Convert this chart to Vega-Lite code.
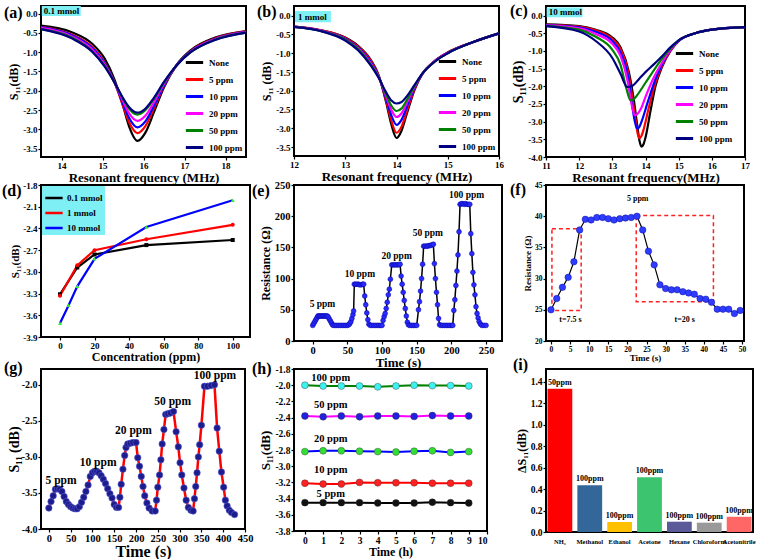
{
"$schema":"https://vega.github.io/schema/vega-lite/v6.json",
"background":"white",
"padding":{"left":1,"top":2,"right":6,"bottom":0},
"columns":3,
"bounds":"flush",
"align":"none",
"spacing":{"row":28,"column":44},
"resolve":{"scale":{"color":"independent","fill":"independent","shape":"independent"},"legend":{"color":"independent","fill":"independent","shape":"independent"}},
"config":{
 "locale":{"number":{"decimal":".","thousands":",","grouping":[3],"currency":["$",""],"minus":"-"}},
 "font":"Liberation Serif",
 "view":{"stroke":"black","strokeWidth":2},
 "axis":{"domain":false,"grid":false,"tickColor":"black","tickSize":3,"tickWidth":1.2,"tickCount":40,"labelColor":"black","labelFontWeight":"bold","labelFontSize":9,"labelPadding":1,"labelFlush":false,"labelOverlap":false,"labelSeparation":0,"titleColor":"black","titleFontWeight":"bold","titleFontSize":13,"titlePadding":2},
 "legend":{"labelColor":"black","labelFontWeight":"bold","labelFontSize":9},
 "title":{"anchor":"start","frame":"group","offset":0,"fontSize":16,"fontWeight":"bold","color":"black"},
 "text":{"fontWeight":"bold","color":"black"}
},
"datasets":{
"dd":[
{"s":"0.1 mmol","x":0,"y":-3.31},{"s":"0.1 mmol","x":10,"y":-2.94},{"s":"0.1 mmol","x":20,"y":-2.76},{"s":"0.1 mmol","x":50,"y":-2.63},{"s":"0.1 mmol","x":100,"y":-2.56},
{"s":"1 mmol","x":0,"y":-3.33},{"s":"1 mmol","x":10,"y":-2.91},{"s":"1 mmol","x":20,"y":-2.7},{"s":"1 mmol","x":50,"y":-2.55},{"s":"1 mmol","x":100,"y":-2.35},
{"s":"10 mmol","x":0,"y":-3.71},{"s":"10 mmol","x":5,"y":-3.46},{"s":"10 mmol","x":10,"y":-3.2},{"s":"10 mmol","x":20,"y":-2.82},{"s":"10 mmol","x":50,"y":-2.38},{"s":"10 mmol","x":100,"y":-2.01}
],
"ee":[
{"t":0,"R":25},{"t":1.5,"R":28},{"t":3,"R":31},{"t":4.5,"R":34},{"t":6,"R":37},{"t":7.5,"R":40},{"t":9,"R":40},{"t":10.5,"R":40},{"t":12,"R":40},{"t":13.5,"R":40},{"t":15,"R":40},{"t":16.5,"R":40},{"t":18,"R":40},{"t":19.5,"R":40},{"t":21,"R":40},{"t":22.5,"R":38},{"t":24,"R":35},{"t":25.5,"R":32},{"t":27,"R":29},{"t":28.5,"R":26},{"t":30,"R":25},{"t":32.5,"R":25},{"t":35,"R":25},{"t":37.5,"R":25},{"t":40,"R":25},{"t":42.5,"R":25},{"t":45,"R":25},{"t":47.5,"R":25},{"t":50,"R":25},
{"t":52,"R":26},{"t":53.5,"R":28},{"t":55,"R":31},{"t":56.5,"R":36},{"t":58,"R":42},{"t":59,"R":48},{"t":60,"R":91},{"t":62,"R":91},{"t":64,"R":91},{"t":66,"R":91},{"t":68,"R":90},{"t":70,"R":90},{"t":72,"R":91},{"t":73.5,"R":91},{"t":75,"R":72},{"t":76.5,"R":58},{"t":78,"R":45},{"t":79.5,"R":34},{"t":81,"R":27},{"t":83,"R":25},{"t":85.5,"R":25},{"t":88,"R":25},{"t":90.5,"R":25},{"t":93,"R":25},{"t":95.5,"R":25},{"t":98,"R":25},{"t":100,"R":25},
{"t":101.5,"R":33},{"t":103,"R":39},{"t":104.5,"R":44},{"t":106,"R":52},{"t":107.5,"R":62},{"t":109,"R":74},{"t":110.5,"R":83},{"t":112,"R":99},{"t":114,"R":122},{"t":116,"R":122},{"t":118,"R":122},{"t":120,"R":122},{"t":122,"R":122},{"t":124,"R":122},{"t":126,"R":123},{"t":127.5,"R":104},{"t":129,"R":91},{"t":130.5,"R":78},{"t":132,"R":65},{"t":133.5,"R":52},{"t":135,"R":40},{"t":136.5,"R":30},{"t":138,"R":26},{"t":140,"R":25},{"t":142.5,"R":25},{"t":145,"R":25},{"t":147.5,"R":25},{"t":150,"R":25},
{"t":152.5,"R":50},{"t":154,"R":63},{"t":155.5,"R":80},{"t":157,"R":100},{"t":158.5,"R":123},{"t":160,"R":152},{"t":162,"R":152},{"t":164,"R":152},{"t":166,"R":152},{"t":168,"R":153},{"t":170,"R":153},{"t":172,"R":154},{"t":174,"R":155},{"t":175.5,"R":124},{"t":177,"R":100},{"t":178.5,"R":78},{"t":180,"R":58},{"t":181.5,"R":36},{"t":183,"R":26},{"t":185,"R":25},{"t":187.5,"R":25},{"t":190,"R":25},{"t":192.5,"R":25},{"t":195,"R":25},{"t":197.5,"R":25},{"t":200,"R":25},{"t":202,"R":25},
{"t":203.5,"R":49},{"t":205,"R":66},{"t":206.5,"R":89},{"t":208,"R":112},{"t":209.5,"R":138},{"t":211,"R":175},{"t":212.5,"R":219},{"t":214.5,"R":220},{"t":216.5,"R":220},{"t":218.5,"R":219},{"t":220.5,"R":220},{"t":222.5,"R":219},{"t":224.5,"R":219},{"t":226.5,"R":219},{"t":228,"R":172},{"t":229.5,"R":140},{"t":231,"R":110},{"t":232.5,"R":90},{"t":234,"R":74},{"t":235.5,"R":55},{"t":237,"R":44},{"t":238.5,"R":37},{"t":240,"R":31},{"t":242,"R":27},{"t":244,"R":25},{"t":247,"R":25},{"t":250,"R":25}
],
"ff":[
{"t":0,"R":25.0},{"t":1.5,"R":26.8},{"t":3,"R":28.6},{"t":4.5,"R":30.2},{"t":6,"R":32.7},{"t":7.5,"R":37.8},{"t":9,"R":39.5},{"t":10.5,"R":39.4},{"t":12,"R":39.8},{"t":13.5,"R":39.8},{"t":15,"R":39.6},{"t":16.5,"R":39.4},{"t":18,"R":39.6},{"t":19.5,"R":39.7},{"t":21,"R":39.8},{"t":22.5,"R":40.0},{"t":24,"R":37.8},{"t":25.5,"R":34.4},{"t":27,"R":32.2},{"t":28.5,"R":29.0},{"t":30,"R":28.4},{"t":31.5,"R":28.2},{"t":33,"R":28.2},{"t":34.5,"R":27.9},{"t":36,"R":27.7},{"t":37.5,"R":27.5},{"t":39,"R":26.8},{"t":40.5,"R":26.7},{"t":42,"R":26.2},{"t":43.5,"R":25.1},{"t":45,"R":25.1},{"t":46.5,"R":25.1},{"t":48,"R":24.4},{"t":49.5,"R":24.9}
],
"gg":[
{"t":0,"s":-3.71},{"t":5,"s":-3.62},{"t":10,"s":-3.54},{"t":15,"s":-3.45},{"t":20,"s":-3.44},{"t":25,"s":-3.45},{"t":30,"s":-3.48},{"t":35,"s":-3.55},{"t":40,"s":-3.62},{"t":45,"s":-3.66},{"t":50,"s":-3.69},{"t":55,"s":-3.71},{"t":60,"s":-3.72},{"t":65,"s":-3.72},{"t":70,"s":-3.69},{"t":75,"s":-3.63},{"t":80,"s":-3.56},{"t":85,"s":-3.48},{"t":90,"s":-3.39},{"t":95,"s":-3.27},{"t":100,"s":-3.22},{"t":105,"s":-3.2},{"t":110,"s":-3.2},{"t":115,"s":-3.22},{"t":120,"s":-3.26},{"t":125,"s":-3.31},{"t":130,"s":-3.37},{"t":135,"s":-3.44},{"t":140,"s":-3.51},{"t":145,"s":-3.57},{"t":150,"s":-3.66},{"t":155,"s":-3.7},{"t":160,"s":-3.7},
{"t":163,"s":-3.56},{"t":166,"s":-3.38},{"t":170,"s":-3.17},{"t":174,"s":-2.98},{"t":177,"s":-2.87},{"t":181,"s":-2.82},{"t":187,"s":-2.81},{"t":193,"s":-2.8},{"t":200,"s":-2.8},{"t":204,"s":-3.01},{"t":208,"s":-3.13},{"t":212,"s":-3.27},{"t":216,"s":-3.41},{"t":220,"s":-3.54},{"t":225,"s":-3.64},{"t":230,"s":-3.71},{"t":237,"s":-3.75},{"t":244,"s":-3.75},
{"t":247,"s":-3.6},{"t":250,"s":-3.42},{"t":254,"s":-3.25},{"t":257,"s":-3.04},{"t":260,"s":-2.82},{"t":264,"s":-2.62},{"t":268,"s":-2.41},{"t":273,"s":-2.4},{"t":279,"s":-2.39},{"t":286,"s":-2.37},{"t":292,"s":-2.65},{"t":297,"s":-2.86},{"t":301,"s":-3.08},{"t":305,"s":-3.25},{"t":310,"s":-3.43},{"t":315,"s":-3.6},{"t":320,"s":-3.7},{"t":326,"s":-3.74},{"t":331,"s":-3.75},
{"t":334,"s":-3.58},{"t":337,"s":-3.41},{"t":340,"s":-3.22},{"t":343,"s":-3.0},{"t":346,"s":-2.83},{"t":350,"s":-2.56},{"t":357,"s":-2.02},{"t":364,"s":-2.02},{"t":372,"s":-2.01},{"t":380,"s":-2.0},{"t":386,"s":-2.6},{"t":391,"s":-2.92},{"t":396,"s":-3.21},{"t":401,"s":-3.42},{"t":405,"s":-3.6},{"t":409,"s":-3.68},{"t":414,"s":-3.74},{"t":419,"s":-3.77},{"t":426,"s":-3.8}
],
"hh":[
{"p":"100 ppm","h":0,"s":-2.0},{"p":"100 ppm","h":1,"s":-2.01},{"p":"100 ppm","h":2,"s":-2.01},{"p":"100 ppm","h":3,"s":-2.01},{"p":"100 ppm","h":4,"s":-2.02},{"p":"100 ppm","h":5,"s":-2.01},{"p":"100 ppm","h":6,"s":-2.0},{"p":"100 ppm","h":7,"s":-2.005},{"p":"100 ppm","h":8,"s":-2.005},{"p":"100 ppm","h":9,"s":-2.01},
{"p":"50 ppm","h":0,"s":-2.38},{"p":"50 ppm","h":1,"s":-2.39},{"p":"50 ppm","h":2,"s":-2.38},{"p":"50 ppm","h":3,"s":-2.39},{"p":"50 ppm","h":4,"s":-2.38},{"p":"50 ppm","h":5,"s":-2.38},{"p":"50 ppm","h":6,"s":-2.385},{"p":"50 ppm","h":7,"s":-2.375},{"p":"50 ppm","h":8,"s":-2.38},{"p":"50 ppm","h":9,"s":-2.38},
{"p":"20 ppm","h":0,"s":-2.82},{"p":"20 ppm","h":1,"s":-2.81},{"p":"20 ppm","h":2,"s":-2.81},{"p":"20 ppm","h":3,"s":-2.815},{"p":"20 ppm","h":4,"s":-2.82},{"p":"20 ppm","h":5,"s":-2.825},{"p":"20 ppm","h":6,"s":-2.815},{"p":"20 ppm","h":7,"s":-2.81},{"p":"20 ppm","h":8,"s":-2.83},{"p":"20 ppm","h":9,"s":-2.82},
{"p":"10 ppm","h":0,"s":-3.21},{"p":"10 ppm","h":1,"s":-3.22},{"p":"10 ppm","h":2,"s":-3.22},{"p":"10 ppm","h":3,"s":-3.2},{"p":"10 ppm","h":4,"s":-3.205},{"p":"10 ppm","h":5,"s":-3.205},{"p":"10 ppm","h":6,"s":-3.205},{"p":"10 ppm","h":7,"s":-3.21},{"p":"10 ppm","h":8,"s":-3.21},{"p":"10 ppm","h":9,"s":-3.21},
{"p":"5 ppm","h":0,"s":-3.45},{"p":"5 ppm","h":1,"s":-3.45},{"p":"5 ppm","h":2,"s":-3.45},{"p":"5 ppm","h":3,"s":-3.45},{"p":"5 ppm","h":4,"s":-3.455},{"p":"5 ppm","h":5,"s":-3.455},{"p":"5 ppm","h":6,"s":-3.455},{"p":"5 ppm","h":7,"s":-3.445},{"p":"5 ppm","h":8,"s":-3.45},{"p":"5 ppm","h":9,"s":-3.455}
]
},
"concat":[
{
"width":205,"height":151,
"title":{"text":"(a)","dx":-37,"dy":19},
"layer":[
{"data":{"values":[
{"c":"None","f":13.5,"s":-0.31},{"c":"None","f":14.25,"s":-0.48},{"c":"None","f":14.75,"s":-0.78},{"c":"None","f":15.05,"s":-1.16},{"c":"None","f":15.3,"s":-1.73},{"c":"None","f":15.5,"s":-2.39},{"c":"None","f":15.65,"s":-2.93},{"c":"None","f":15.85,"s":-3.3},{"c":"None","f":16.05,"s":-3.08},{"c":"None","f":16.25,"s":-2.57},{"c":"None","f":16.5,"s":-1.91},{"c":"None","f":16.8,"s":-1.34},{"c":"None","f":17.15,"s":-0.95},{"c":"None","f":17.75,"s":-0.62},{"c":"None","f":18.5,"s":-0.45},
{"c":"5 ppm","f":13.5,"s":-0.34},{"c":"5 ppm","f":14.25,"s":-0.54},{"c":"5 ppm","f":14.75,"s":-0.86},{"c":"5 ppm","f":15.05,"s":-1.26},{"c":"5 ppm","f":15.3,"s":-1.8},{"c":"5 ppm","f":15.5,"s":-2.39},{"c":"5 ppm","f":15.65,"s":-2.82},{"c":"5 ppm","f":15.85,"s":-3.1},{"c":"5 ppm","f":16.05,"s":-2.91},{"c":"5 ppm","f":16.25,"s":-2.47},{"c":"5 ppm","f":16.5,"s":-1.88},{"c":"5 ppm","f":16.8,"s":-1.35},{"c":"5 ppm","f":17.15,"s":-0.97},{"c":"5 ppm","f":17.75,"s":-0.64},{"c":"5 ppm","f":18.5,"s":-0.46},
{"c":"10 ppm","f":13.5,"s":-0.35},{"c":"10 ppm","f":14.25,"s":-0.56},{"c":"10 ppm","f":14.75,"s":-0.89},{"c":"10 ppm","f":15.05,"s":-1.28},{"c":"10 ppm","f":15.3,"s":-1.8},{"c":"10 ppm","f":15.5,"s":-2.33},{"c":"10 ppm","f":15.65,"s":-2.71},{"c":"10 ppm","f":15.85,"s":-2.95},{"c":"10 ppm","f":16.05,"s":-2.79},{"c":"10 ppm","f":16.25,"s":-2.4},{"c":"10 ppm","f":16.5,"s":-1.86},{"c":"10 ppm","f":16.8,"s":-1.35},{"c":"10 ppm","f":17.15,"s":-0.98},{"c":"10 ppm","f":17.75,"s":-0.65},{"c":"10 ppm","f":18.5,"s":-0.47},
{"c":"20 ppm","f":13.5,"s":-0.37},{"c":"20 ppm","f":14.25,"s":-0.59},{"c":"20 ppm","f":14.75,"s":-0.93},{"c":"20 ppm","f":15.05,"s":-1.31},{"c":"20 ppm","f":15.3,"s":-1.8},{"c":"20 ppm","f":15.5,"s":-2.27},{"c":"20 ppm","f":15.65,"s":-2.59},{"c":"20 ppm","f":15.85,"s":-2.78},{"c":"20 ppm","f":16.05,"s":-2.64},{"c":"20 ppm","f":16.25,"s":-2.31},{"c":"20 ppm","f":16.5,"s":-1.82},{"c":"20 ppm","f":16.8,"s":-1.35},{"c":"20 ppm","f":17.15,"s":-0.99},{"c":"20 ppm","f":17.75,"s":-0.66},{"c":"20 ppm","f":18.5,"s":-0.48},
{"c":"50 ppm","f":13.5,"s":-0.4},{"c":"50 ppm","f":14.25,"s":-0.62},{"c":"50 ppm","f":14.75,"s":-0.98},{"c":"50 ppm","f":15.05,"s":-1.35},{"c":"50 ppm","f":15.3,"s":-1.8},{"c":"50 ppm","f":15.5,"s":-2.21},{"c":"50 ppm","f":15.65,"s":-2.47},{"c":"50 ppm","f":15.85,"s":-2.62},{"c":"50 ppm","f":16.05,"s":-2.5},{"c":"50 ppm","f":16.25,"s":-2.22},{"c":"50 ppm","f":16.5,"s":-1.79},{"c":"50 ppm","f":16.8,"s":-1.35},{"c":"50 ppm","f":17.15,"s":-1.0},{"c":"50 ppm","f":17.75,"s":-0.67},{"c":"50 ppm","f":18.5,"s":-0.49},
{"c":"100 ppm","f":13.5,"s":-0.4},{"c":"100 ppm","f":14.25,"s":-0.64},{"c":"100 ppm","f":14.75,"s":-0.99},{"c":"100 ppm","f":15.05,"s":-1.37},{"c":"100 ppm","f":15.3,"s":-1.8},{"c":"100 ppm","f":15.5,"s":-2.19},{"c":"100 ppm","f":15.65,"s":-2.43},{"c":"100 ppm","f":15.85,"s":-2.57},{"c":"100 ppm","f":16.05,"s":-2.46},{"c":"100 ppm","f":16.25,"s":-2.19},{"c":"100 ppm","f":16.5,"s":-1.77},{"c":"100 ppm","f":16.8,"s":-1.35},{"c":"100 ppm","f":17.15,"s":-1.0},{"c":"100 ppm","f":17.75,"s":-0.68},{"c":"100 ppm","f":18.5,"s":-0.49}
]},
"mark":{"type":"line","interpolate":"monotone","strokeWidth":2.2},
"encoding":{
"x":{"field":"f","type":"quantitative","scale":{"domain":[13.5,18.5],"nice":false,"zero":false},"axis":{"values":[14,15,16,17,18],"tickCount":40,"format":"d","title":"Resonant frequency (MHz)","titlePadding":1}},
"y":{"field":"s","type":"quantitative","scale":{"domain":[-3.72,0.2],"nice":false,"zero":false},"axis":{"values":[-3.5,-3,-2.5,-2,-1.5,-1,-0.5,0],"tickCount":40,"format":".1f","title":"S₁₁(dB)","titleFontSize":12}},
"color":{"field":"c","type":"nominal","scale":{"domain":["None","5 ppm","10 ppm","20 ppm","50 ppm","100 ppm"],"range":["#000000","#ff0000","#0000ff","#ff00ff","#008000","#000080"]},"legend":{"title":null,"orient":"bottom-right","offset":3,"symbolType":"stroke","symbolStrokeWidth":3,"symbolSize":300,"rowPadding":0,"labelOffset":4,"padding":0}}
}},
{"data":{"values":[{"t":"0.1 mmol"}]},"mark":{"type":"rect","fill":"#7ef0f5"},"encoding":{"x":{"datum":13.52},"x2":{"datum":14.47},"y":{"datum":0.2},"y2":{"datum":-0.06}}},
{"data":{"values":[{"t":"0.1 mmol"}]},"mark":{"type":"text","align":"left","baseline":"middle","fontSize":9},"encoding":{"x":{"datum":13.57},"y":{"datum":0.07},"text":{"field":"t"}}}
]
},
{
"width":205,"height":150,
"title":{"text":"(b)","dx":-37,"dy":18},
"layer":[
{"data":{"values":[
{"c":"None","f":12,"s":-0.29},{"c":"None","f":12.5,"s":-0.38},{"c":"None","f":13,"s":-0.58},{"c":"None","f":13.25,"s":-0.8},{"c":"None","f":13.5,"s":-1.18},{"c":"None","f":13.65,"s":-1.58},{"c":"None","f":13.8,"s":-2.32},{"c":"None","f":13.9,"s":-2.9},{"c":"None","f":14,"s":-3.26},{"c":"None","f":14.1,"s":-3.06},{"c":"None","f":14.2,"s":-2.62},{"c":"None","f":14.35,"s":-1.98},{"c":"None","f":14.5,"s":-1.56},{"c":"None","f":14.75,"s":-1.2},{"c":"None","f":15,"s":-0.98},{"c":"None","f":15.5,"s":-0.7},{"c":"None","f":16,"s":-0.47},
{"c":"5 ppm","f":12,"s":-0.29},{"c":"5 ppm","f":12.5,"s":-0.38},{"c":"5 ppm","f":13,"s":-0.59},{"c":"5 ppm","f":13.25,"s":-0.82},{"c":"5 ppm","f":13.5,"s":-1.2},{"c":"5 ppm","f":13.65,"s":-1.59},{"c":"5 ppm","f":13.8,"s":-2.28},{"c":"5 ppm","f":13.9,"s":-2.8},{"c":"5 ppm","f":14,"s":-3.12},{"c":"5 ppm","f":14.1,"s":-2.95},{"c":"5 ppm","f":14.2,"s":-2.55},{"c":"5 ppm","f":14.35,"s":-1.96},{"c":"5 ppm","f":14.5,"s":-1.56},{"c":"5 ppm","f":14.75,"s":-1.2},{"c":"5 ppm","f":15,"s":-0.98},{"c":"5 ppm","f":15.5,"s":-0.7},{"c":"5 ppm","f":16,"s":-0.47},
{"c":"10 ppm","f":12,"s":-0.29},{"c":"10 ppm","f":12.5,"s":-0.39},{"c":"10 ppm","f":13,"s":-0.61},{"c":"10 ppm","f":13.25,"s":-0.85},{"c":"10 ppm","f":13.5,"s":-1.24},{"c":"10 ppm","f":13.65,"s":-1.61},{"c":"10 ppm","f":13.8,"s":-2.22},{"c":"10 ppm","f":13.9,"s":-2.66},{"c":"10 ppm","f":14,"s":-2.91},{"c":"10 ppm","f":14.1,"s":-2.77},{"c":"10 ppm","f":14.2,"s":-2.44},{"c":"10 ppm","f":14.35,"s":-1.93},{"c":"10 ppm","f":14.5,"s":-1.56},{"c":"10 ppm","f":14.75,"s":-1.21},{"c":"10 ppm","f":15,"s":-0.99},{"c":"10 ppm","f":15.5,"s":-0.7},{"c":"10 ppm","f":16,"s":-0.47},
{"c":"20 ppm","f":12,"s":-0.3},{"c":"20 ppm","f":12.5,"s":-0.39},{"c":"20 ppm","f":13,"s":-0.63},{"c":"20 ppm","f":13.25,"s":-0.87},{"c":"20 ppm","f":13.5,"s":-1.27},{"c":"20 ppm","f":13.65,"s":-1.62},{"c":"20 ppm","f":13.8,"s":-2.16},{"c":"20 ppm","f":13.9,"s":-2.51},{"c":"20 ppm","f":14,"s":-2.7},{"c":"20 ppm","f":14.1,"s":-2.6},{"c":"20 ppm","f":14.2,"s":-2.33},{"c":"20 ppm","f":14.35,"s":-1.9},{"c":"20 ppm","f":14.5,"s":-1.55},{"c":"20 ppm","f":14.75,"s":-1.21},{"c":"20 ppm","f":15,"s":-0.99},{"c":"20 ppm","f":15.5,"s":-0.7},{"c":"20 ppm","f":16,"s":-0.47},
{"c":"50 ppm","f":12,"s":-0.3},{"c":"50 ppm","f":12.5,"s":-0.4},{"c":"50 ppm","f":13,"s":-0.64},{"c":"50 ppm","f":13.25,"s":-0.89},{"c":"50 ppm","f":13.5,"s":-1.3},{"c":"50 ppm","f":13.65,"s":-1.63},{"c":"50 ppm","f":13.8,"s":-2.11},{"c":"50 ppm","f":13.9,"s":-2.4},{"c":"50 ppm","f":14,"s":-2.54},{"c":"50 ppm","f":14.1,"s":-2.47},{"c":"50 ppm","f":14.2,"s":-2.25},{"c":"50 ppm","f":14.35,"s":-1.88},{"c":"50 ppm","f":14.5,"s":-1.55},{"c":"50 ppm","f":14.75,"s":-1.22},{"c":"50 ppm","f":15,"s":-1.0},{"c":"50 ppm","f":15.5,"s":-0.7},{"c":"50 ppm","f":16,"s":-0.47},
{"c":"100 ppm","f":12,"s":-0.3},{"c":"100 ppm","f":12.5,"s":-0.4},{"c":"100 ppm","f":13,"s":-0.66},{"c":"100 ppm","f":13.25,"s":-0.92},{"c":"100 ppm","f":13.5,"s":-1.33},{"c":"100 ppm","f":13.65,"s":-1.65},{"c":"100 ppm","f":13.8,"s":-2.05},{"c":"100 ppm","f":13.9,"s":-2.26},{"c":"100 ppm","f":14,"s":-2.34},{"c":"100 ppm","f":14.1,"s":-2.3},{"c":"100 ppm","f":14.2,"s":-2.15},{"c":"100 ppm","f":14.35,"s":-1.85},{"c":"100 ppm","f":14.5,"s":-1.55},{"c":"100 ppm","f":14.75,"s":-1.22},{"c":"100 ppm","f":15,"s":-1.0},{"c":"100 ppm","f":15.5,"s":-0.7},{"c":"100 ppm","f":16,"s":-0.47}
]},
"mark":{"type":"line","interpolate":"monotone","strokeWidth":2.2},
"encoding":{
"x":{"field":"f","type":"quantitative","scale":{"domain":[12,16],"nice":false,"zero":false},"axis":{"values":[12,13,14,15,16],"tickCount":40,"format":"d","title":"Resonant frequency (MHz)","titlePadding":1}},
"y":{"field":"s","type":"quantitative","scale":{"domain":[-3.74,0.26],"nice":false,"zero":false},"axis":{"values":[-3.5,-3,-2.5,-2,-1.5,-1,-0.5,0],"tickCount":40,"format":".1f","title":"S₁₁ (dB)","titleFontSize":12}},
"color":{"field":"c","type":"nominal","scale":{"domain":["None","5 ppm","10 ppm","20 ppm","50 ppm","100 ppm"],"range":["#000000","#ff0000","#0000ff","#ff00ff","#008000","#000080"]},"legend":{"title":null,"orient":"bottom-right","offset":3,"symbolType":"stroke","symbolStrokeWidth":3,"symbolSize":300,"rowPadding":0,"labelOffset":4,"padding":0}}
}},
{"data":{"values":[{"t":"1 mmol"}]},"mark":{"type":"rect","fill":"#7ef0f5"},"encoding":{"x":{"datum":12.02},"x2":{"datum":12.72},"y":{"datum":0.13},"y2":{"datum":-0.17}}},
{"data":{"values":[{"t":"1 mmol"}]},"mark":{"type":"text","align":"left","baseline":"middle","fontSize":9},"encoding":{"x":{"datum":12.08},"y":{"datum":-0.02},"text":{"field":"t"}}}
]
},
{
"width":199,"height":151,
"title":{"text":"(c)","dx":-36,"dy":17},
"layer":[
{"data":{"values":[
{"c":"None","f":11,"s":-0.25},{"c":"None","f":12,"s":-0.3},{"c":"None","f":12.5,"s":-0.4},{"c":"None","f":13,"s":-0.62},{"c":"None","f":13.25,"s":-0.9},{"c":"None","f":13.5,"s":-1.6},{"c":"None","f":13.65,"s":-2.4},{"c":"None","f":13.75,"s":-3.1},{"c":"None","f":13.82,"s":-3.55},{"c":"None","f":13.88,"s":-3.71},{"c":"None","f":13.94,"s":-3.64},{"c":"None","f":14,"s":-3.45},{"c":"None","f":14.15,"s":-2.7},{"c":"None","f":14.3,"s":-2.0},{"c":"None","f":14.5,"s":-1.45},{"c":"None","f":14.75,"s":-1.0},{"c":"None","f":15,"s":-0.72},{"c":"None","f":15.5,"s":-0.5},{"c":"None","f":16,"s":-0.4},{"c":"None","f":17,"s":-0.33},
{"c":"5 ppm","f":11,"s":-0.26},{"c":"5 ppm","f":12,"s":-0.31},{"c":"5 ppm","f":12.5,"s":-0.42},{"c":"5 ppm","f":13,"s":-0.66},{"c":"5 ppm","f":13.25,"s":-0.95},{"c":"5 ppm","f":13.5,"s":-1.7},{"c":"5 ppm","f":13.62,"s":-2.45},{"c":"5 ppm","f":13.7,"s":-2.95},{"c":"5 ppm","f":13.76,"s":-3.32},{"c":"5 ppm","f":13.82,"s":-3.47},{"c":"5 ppm","f":13.88,"s":-3.4},{"c":"5 ppm","f":13.95,"s":-3.2},{"c":"5 ppm","f":14.1,"s":-2.6},{"c":"5 ppm","f":14.3,"s":-1.9},{"c":"5 ppm","f":14.5,"s":-1.42},{"c":"5 ppm","f":14.75,"s":-1.0},{"c":"5 ppm","f":15,"s":-0.72},{"c":"5 ppm","f":15.5,"s":-0.5},{"c":"5 ppm","f":16,"s":-0.4},{"c":"5 ppm","f":17,"s":-0.33},
{"c":"10 ppm","f":11,"s":-0.27},{"c":"10 ppm","f":12,"s":-0.33},{"c":"10 ppm","f":12.5,"s":-0.46},{"c":"10 ppm","f":13,"s":-0.72},{"c":"10 ppm","f":13.25,"s":-1.05},{"c":"10 ppm","f":13.5,"s":-1.85},{"c":"10 ppm","f":13.6,"s":-2.55},{"c":"10 ppm","f":13.68,"s":-3.0},{"c":"10 ppm","f":13.75,"s":-3.2},{"c":"10 ppm","f":13.82,"s":-3.14},{"c":"10 ppm","f":13.9,"s":-2.95},{"c":"10 ppm","f":14.05,"s":-2.5},{"c":"10 ppm","f":14.3,"s":-1.8},{"c":"10 ppm","f":14.5,"s":-1.38},{"c":"10 ppm","f":14.75,"s":-0.98},{"c":"10 ppm","f":15,"s":-0.72},{"c":"10 ppm","f":15.5,"s":-0.5},{"c":"10 ppm","f":16,"s":-0.4},{"c":"10 ppm","f":17,"s":-0.33},
{"c":"20 ppm","f":11,"s":-0.28},{"c":"20 ppm","f":12,"s":-0.36},{"c":"20 ppm","f":12.5,"s":-0.52},{"c":"20 ppm","f":13,"s":-0.8},{"c":"20 ppm","f":13.25,"s":-1.15},{"c":"20 ppm","f":13.45,"s":-1.8},{"c":"20 ppm","f":13.58,"s":-2.5},{"c":"20 ppm","f":13.68,"s":-2.82},{"c":"20 ppm","f":13.78,"s":-2.76},{"c":"20 ppm","f":13.88,"s":-2.6},{"c":"20 ppm","f":14,"s":-2.3},{"c":"20 ppm","f":14.25,"s":-1.75},{"c":"20 ppm","f":14.5,"s":-1.33},{"c":"20 ppm","f":14.75,"s":-0.97},{"c":"20 ppm","f":15,"s":-0.71},{"c":"20 ppm","f":15.5,"s":-0.5},{"c":"20 ppm","f":16,"s":-0.4},{"c":"20 ppm","f":17,"s":-0.33},
{"c":"50 ppm","f":11,"s":-0.29},{"c":"50 ppm","f":12,"s":-0.4},{"c":"50 ppm","f":12.5,"s":-0.6},{"c":"50 ppm","f":13,"s":-0.97},{"c":"50 ppm","f":13.25,"s":-1.4},{"c":"50 ppm","f":13.42,"s":-2.05},{"c":"50 ppm","f":13.55,"s":-2.4},{"c":"50 ppm","f":13.65,"s":-2.36},{"c":"50 ppm","f":13.75,"s":-2.25},{"c":"50 ppm","f":14,"s":-1.9},{"c":"50 ppm","f":14.25,"s":-1.55},{"c":"50 ppm","f":14.5,"s":-1.22},{"c":"50 ppm","f":14.75,"s":-0.93},{"c":"50 ppm","f":15,"s":-0.7},{"c":"50 ppm","f":15.5,"s":-0.5},{"c":"50 ppm","f":16,"s":-0.4},{"c":"50 ppm","f":17,"s":-0.33},
{"c":"100 ppm","f":11,"s":-0.3},{"c":"100 ppm","f":12,"s":-0.45},{"c":"100 ppm","f":12.5,"s":-0.72},{"c":"100 ppm","f":13,"s":-1.2},{"c":"100 ppm","f":13.25,"s":-1.65},{"c":"100 ppm","f":13.45,"s":-2.02},{"c":"100 ppm","f":13.6,"s":-1.99},{"c":"100 ppm","f":13.8,"s":-1.8},{"c":"100 ppm","f":14,"s":-1.6},{"c":"100 ppm","f":14.25,"s":-1.38},{"c":"100 ppm","f":14.5,"s":-1.15},{"c":"100 ppm","f":14.75,"s":-0.9},{"c":"100 ppm","f":15,"s":-0.7},{"c":"100 ppm","f":15.5,"s":-0.5},{"c":"100 ppm","f":16,"s":-0.4},{"c":"100 ppm","f":17,"s":-0.33}
]},
"mark":{"type":"line","interpolate":"monotone","strokeWidth":2.2},
"encoding":{
"x":{"field":"f","type":"quantitative","scale":{"domain":[11,17],"nice":false,"zero":false},"axis":{"values":[11,12,13,14,15,16,17],"tickCount":40,"format":"d","title":"Resonant frequency(MHz)","titlePadding":1}},
"y":{"field":"s","type":"quantitative","scale":{"domain":[-4,0.27],"nice":false,"zero":false},"axis":{"values":[-4,-3.5,-3,-2.5,-2,-1.5,-1,-0.5,0],"tickCount":40,"format":".1f","title":"S₁₁(dB)","titleFontSize":14}},
"color":{"field":"c","type":"nominal","scale":{"domain":["None","5 ppm","10 ppm","20 ppm","50 ppm","100 ppm"],"range":["#000000","#ff0000","#0000ff","#ff00ff","#008000","#000080"]},"legend":{"title":null,"orient":"bottom-right","offset":12,"symbolType":"stroke","symbolStrokeWidth":3,"symbolSize":300,"rowPadding":0,"labelOffset":4,"padding":0}}
}},
{"data":{"values":[{"t":"10 mmol"}]},"mark":{"type":"rect","fill":"#7ef0f5"},"encoding":{"x":{"datum":11.02},"x2":{"datum":12.1},"y":{"datum":0.23},"y2":{"datum":-0.05}}},
{"data":{"values":[{"t":"10 mmol"}]},"mark":{"type":"text","align":"left","baseline":"middle","fontSize":9},"encoding":{"x":{"datum":11.08},"y":{"datum":0.09},"text":{"field":"t"}}}
]
},
{
"width":209,"height":152,
"title":{"text":"(d)","dx":-39,"dy":22},
"layer":[
{"data":{"name":"dd"},
"mark":{"type":"line","strokeWidth":2.2},
"encoding":{
"x":{"field":"x","type":"quantitative","scale":{"domain":[-11,110],"nice":false,"zero":false},"axis":{"values":[0,20,40,60,80,100],"tickCount":40,"title":"Concentration (ppm)","titlePadding":1,"titleFontSize":12}},
"y":{"field":"y","type":"quantitative","scale":{"domain":[-3.9,-1.8],"nice":false,"zero":false},"axis":{"values":[-3.9,-3.6,-3.3,-3.0,-2.7,-2.4,-2.1,-1.8],"tickCount":40,"format":".1f","title":"S₁₁(dB)","titleFontSize":11}},
"color":{"field":"s","type":"nominal","scale":{"domain":["0.1 mmol","1 mmol","10 mmol"],"range":["#000000","#ff0000","#0000ff"]},"legend":{"title":null,"orient":"top-left","offset":1,"fillColor":"#7ef0f5","symbolType":"stroke","symbolStrokeWidth":2.5,"symbolSize":300,"rowPadding":0,"labelOffset":3,"padding":2}}
}},
{"data":{"name":"dd"},"transform":[{"filter":"datum.s == '0.1 mmol'"}],
"mark":{"type":"square","size":16,"color":"#000000","opacity":1},
"encoding":{"x":{"field":"x","type":"quantitative"},"y":{"field":"y","type":"quantitative"}}},
{"data":{"name":"dd"},"transform":[{"filter":"datum.s == '1 mmol'"}],
"mark":{"type":"circle","size":16,"color":"#ff0000","opacity":1},
"encoding":{"x":{"field":"x","type":"quantitative"},"y":{"field":"y","type":"quantitative"}}},
{"data":{"name":"dd"},"transform":[{"filter":"datum.s == '10 mmol'"}],
"mark":{"type":"point","shape":"triangle-up","filled":true,"size":16,"color":"#33ee33","opacity":1},
"encoding":{"x":{"field":"x","type":"quantitative"},"y":{"field":"y","type":"quantitative"}}}
]
},
{
"width":208,"height":156,
"title":{"text":"(e)","dx":-42,"dy":23},
"layer":[
{"data":{"name":"ee"},
"mark":{"type":"line","color":"black","strokeWidth":1.5},
"encoding":{
"x":{"field":"t","type":"quantitative","scale":{"domain":[-27,273],"nice":false,"zero":false},"axis":{"values":[0,50,100,150,200,250],"tickCount":40,"title":"Time (s)","labelFontSize":10.5,"titlePadding":1}},
"y":{"field":"R","type":"quantitative","scale":{"domain":[0,250],"nice":false},"axis":{"values":[0,50,100,150,200,250],"tickCount":40,"title":"Resistance (Ω)","labelFontSize":10.5,"titleFontSize":12}}
}},
{"data":{"name":"ee"},"mark":{"type":"circle","size":24,"fill":"#2a2aff","stroke":"#0000a0","strokeWidth":0.5,"opacity":1},
"encoding":{"x":{"field":"t","type":"quantitative"},"y":{"field":"R","type":"quantitative"}}},
{"data":{"values":[{"t":14,"R":60,"l":"5 ppm"},{"t":68,"R":107,"l":"10 ppm"},{"t":121,"R":137,"l":"20 ppm"},{"t":166,"R":173,"l":"50 ppm"},{"t":222,"R":234,"l":"100 ppm"}]},
"mark":{"type":"text","fontSize":9.5,"baseline":"middle"},
"encoding":{"x":{"field":"t","type":"quantitative"},"y":{"field":"R","type":"quantitative"},"text":{"field":"l"}}}
]
},
{
"width":198,"height":156,
"title":{"text":"(f)","dx":-36,"dy":21},
"layer":[
{"data":{"name":"ff"},
"mark":{"type":"line","color":"black","strokeWidth":1.2},
"encoding":{
"x":{"field":"t","type":"quantitative","scale":{"domain":[-1.3,50.5],"nice":false,"zero":false},"axis":{"values":[0,5,10,15,20,25,30,35,40,45,50],"tickCount":40,"format":"d","title":"Time (s)","labelFontSize":7.5,"titleFontSize":9,"titlePadding":1}},
"y":{"field":"R","type":"quantitative","scale":{"domain":[20,45],"nice":false,"zero":false},"axis":{"values":[20,25,30,35,40,45],"tickCount":40,"format":"d","title":"Resistance (Ω)","labelFontSize":7.5,"titleFontSize":9}}
}},
{"data":{"values":[{"t0":0.25,"t1":7.9,"r0":24.9,"r1":38.0},{"t0":22.3,"t1":42.5,"r0":26.3,"r1":40.1}]},
"mark":{"type":"rect","filled":false,"stroke":"#ff2020","strokeWidth":1.5,"strokeDash":[4,3]},
"encoding":{"x":{"field":"t0","type":"quantitative"},"x2":{"field":"t1"},"y":{"field":"r0","type":"quantitative"},"y2":{"field":"r1"}}},
{"data":{"name":"ff"},"mark":{"type":"circle","size":42,"fill":"#2e3cff","stroke":"#1010a0","strokeWidth":0.5,"opacity":1},
"encoding":{"x":{"field":"t","type":"quantitative"},"y":{"field":"R","type":"quantitative"}}},
{"data":{"values":[{"t":22.7,"R":42.7,"l":"5 ppm"},{"t":5.1,"R":23.4,"l":"t=7.5 s"},{"t":35,"R":23.4,"l":"t=20 s"}]},
"mark":{"type":"text","fontSize":8,"baseline":"middle"},
"encoding":{"x":{"field":"t","type":"quantitative"},"y":{"field":"R","type":"quantitative"},"text":{"field":"l"}}}
]
},
{
"width":204,"height":160,
"title":{"text":"(g)","dx":-37,"dy":11},
"layer":[
{"data":{"name":"gg"},
"mark":{"type":"line","color":"#ff0000","strokeWidth":2.5},
"encoding":{
"x":{"field":"t","type":"quantitative","scale":{"domain":[-18,450],"nice":false,"zero":false},"axis":{"values":[0,50,100,150,200,250,300,350,400,450],"tickCount":40,"title":"Time (s)","labelFontSize":10.5,"titleFontSize":16,"titlePadding":0}},
"y":{"field":"s","type":"quantitative","scale":{"domain":[-4.0,-1.78],"nice":false,"zero":false},"axis":{"values":[-4,-3.5,-3,-2.5,-2],"tickCount":40,"format":".1f","title":"S₁₁ (dB)","labelFontSize":10,"titleFontSize":14,"titlePadding":0}}
}},
{"data":{"name":"gg"},"mark":{"type":"circle","size":42,"fill":"#1c1c8c","stroke":"#5a5ad0","strokeWidth":0.6,"opacity":1},
"encoding":{"x":{"field":"t","type":"quantitative"},"y":{"field":"s","type":"quantitative"}}},
{"data":{"values":[{"t":28,"s":-3.33,"l":"5 ppm"},{"t":113,"s":-3.08,"l":"10 ppm"},{"t":194,"s":-2.64,"l":"20 ppm"},{"t":284,"s":-2.24,"l":"50 ppm"},{"t":381,"s":-1.88,"l":"100 ppm"}]},
"mark":{"type":"text","fontSize":11.5,"baseline":"middle"},
"encoding":{"x":{"field":"t","type":"quantitative"},"y":{"field":"s","type":"quantitative"},"text":{"field":"l"}}}
]
},
{
"width":193,"height":162,
"title":{"text":"(h)","dx":-42,"dy":17},
"layer":[
{"data":{"name":"hh"},
"mark":{"type":"line","strokeWidth":2},
"encoding":{
"x":{"field":"h","type":"quantitative","scale":{"domain":[-0.6,10.001],"nice":false,"zero":false},"axis":{"values":[0,1,2,3,4,5,6,7,8,9,10],"tickCount":40,"format":"d","labelFlush":true,"title":"Time (h)","labelFontSize":9.5,"titleFontSize":12,"titlePadding":2}},
"y":{"field":"s","type":"quantitative","scale":{"domain":[-3.8,-1.8],"nice":false,"zero":false},"axis":{"values":[-3.8,-3.6,-3.4,-3.2,-3.0,-2.8,-2.6,-2.4,-2.2,-2.0,-1.8],"tickCount":40,"format":".1f","title":"S₁₁(dB)","labelFontSize":9.5,"titleFontSize":13}},
"color":{"field":"p","type":"nominal","scale":{"domain":["100 ppm","50 ppm","20 ppm","10 ppm","5 ppm"],"range":["#008000","#ff00ff","#0000ff","#ff0000","#000000"]},"legend":null}
}},
{"data":{"name":"hh"},"mark":{"type":"circle","size":48,"opacity":1,"stroke":"#333333","strokeWidth":0.4},
"encoding":{"x":{"field":"h","type":"quantitative"},"y":{"field":"s","type":"quantitative"},
"fill":{"field":"p","type":"nominal","scale":{"domain":["100 ppm","50 ppm","20 ppm","10 ppm","5 ppm"],"range":["#3ff0f0","#2020e0","#33dd33","#ff2020","#111111"]},"legend":null}}},
{"data":{"values":[{"h":1.42,"s":-1.91,"l":"100 ppm"},{"h":1.42,"s":-2.25,"l":"50 ppm"},{"h":1.42,"s":-2.67,"l":"20 ppm"},{"h":1.42,"s":-3.05,"l":"10 ppm"},{"h":1.42,"s":-3.34,"l":"5 ppm"}]},
"mark":{"type":"text","fontSize":10.5,"baseline":"middle"},
"encoding":{"x":{"field":"h","type":"quantitative"},"y":{"field":"s","type":"quantitative"},"text":{"field":"l"}}}
]
},
{
"width":207,"height":163,
"title":{"text":"(i)","dx":-33,"dy":8},
"data":{"values":[
{"g":"NH₃","v":1.335,"l":"50ppm"},{"g":"Methanol","v":0.435,"l":"100ppm"},{"g":"Ethanol","v":0.093,"l":"100ppm"},{"g":"Acetone","v":0.51,"l":"100ppm"},{"g":"Hexane","v":0.096,"l":"100ppm"},{"g":"Chloroform","v":0.087,"l":"100ppm"},{"g":"Acetonitrile","v":0.142,"l":"100ppm"}
]},
"encoding":{
"x":{"field":"g","type":"nominal","sort":null,"scale":{"paddingInner":0.17,"paddingOuter":0.05},"axis":{"title":null,"labelAngle":0,"ticks":false,"labelFontSize":6.5,"labelPadding":6,"labelOverlap":false,"labelLimit":0}},
"y":{"field":"v","type":"quantitative","scale":{"domain":[0,1.52],"nice":false},"axis":{"values":[0,0.2,0.4,0.6,0.8,1.0,1.2,1.4],"tickCount":40,"format":".1f","title":"ΔS₁₁(dB)","labelFontSize":9.5,"titleFontSize":12}}
},
"layer":[
{"mark":{"type":"bar"},
"encoding":{"color":{"field":"g","type":"nominal","scale":{"domain":["NH₃","Methanol","Ethanol","Acetone","Hexane","Chloroform","Acetonitrile"],"range":["#ff0000","#336699","#ffc000","#3cc46f","#5a5a99","#999999","#ff6666"]},"legend":null}}},
{"mark":{"type":"text","fontSize":8,"baseline":"bottom","dy":-2},
"encoding":{"text":{"field":"l"}}}
]
}
]
}
